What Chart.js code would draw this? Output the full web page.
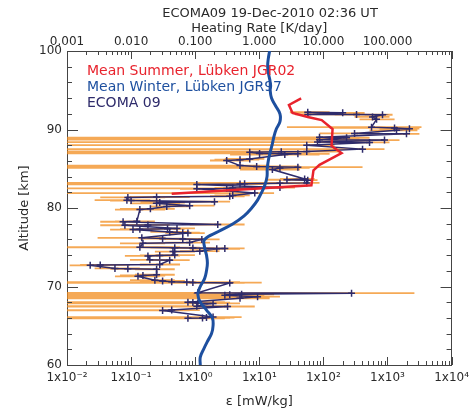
<!DOCTYPE html>
<html>
<head>
<meta charset="utf-8">
<script src="https://cdn.jsdelivr.net/npm/chart.js@4.4.1/dist/chart.umd.min.js"></script>
<style>
  html, body { margin: 0; padding: 0; background: #fff; }
</style>
</head>
<body>
<canvas id="myChart" width="475" height="412"></canvas>
<script>
// ECOMA 09 profile: altitude [km], epsilon [mW/kg], error bar low/high
const ecomaAlt = [92.20, 92.12, 91.92, 91.90, 91.88, 91.60, 91.30,
  90.30, 90.20, 90.10, 89.90, 89.50, 89.45, 89.00, 88.95, 88.70, 88.65, 88.40, 88.35, 88.00,
  87.50, 87.20, 87.15, 87.10, 86.95, 86.90, 86.80, 86.25, 86.15, 86.05,
  85.40, 85.30, 85.20, 85.10, 84.90, 83.70, 83.60, 83.55,
  83.20, 83.15, 83.10, 83.05, 83.00, 82.60, 82.55, 82.50, 82.45,
  81.90, 81.60, 81.50, 81.40, 81.35, 81.00, 80.95, 80.80, 80.70, 80.60, 80.30, 80.20, 79.90, 79.80,
  78.30, 78.25, 77.90, 77.85, 77.80, 77.40, 77.35, 77.30, 77.25, 76.95, 76.85, 76.80,
  76.20, 76.10, 76.05, 76.00, 75.60, 75.50, 75.00, 74.95, 74.90, 74.85, 74.80, 74.50, 74.45,
  74.00, 73.95, 73.90, 73.40, 73.35, 72.80, 72.75, 72.70, 72.30, 72.25, 72.20,
  71.50, 71.40, 71.30, 70.80, 70.70, 70.60, 70.55, 70.50, 70.45,
  69.20, 69.15, 69.00, 68.95, 68.90, 68.70, 68.50, 68.00, 67.95, 67.90, 67.85, 67.50, 67.45,
  67.00, 66.95, 66.10, 66.05, 66.00, 65.95]
const ecomaEps = [57, 200, 57, 329, 836, 584, 675,
  564, 1288, 2200, 1383, 306, 1978, 87, 230, 87, 898, 81, 525, 55,
  408, 55, 22, 7.1, 10.1, 40, 25, 7.1, 5, 3.1,
  5, 9.1, 40, 21, 16, 51, 27, 57,
  55, 21, 5.9, 5, 1.06, 21, 3.85, 3.1, 1.06,
  8.5, 3.85, 3.46, 0.25, 0.089, 0.086, 0.10, 2.0, 0.28, 0.25, 0.82, 0.36, 0.2, 0.137,
  0.123, 0.075, 2.25, 0.183, 0.08, 0.52, 0.37, 0.137, 0.107, 0.40, 0.64, 0.77,
  0.147, 0.31, 0.64, 1.27, 0.82, 0.153, 0.137, 0.48, 0.92, 2.9, 2.17, 1.18, 0.45,
  0.48, 0.28, 0.183, 0.196, 0.40, 0.28, 0.033, 0.023, 0.056, 0.089, 0.25,
  0.25, 0.153, 0.128, 0.235, 0.31, 0.43, 0.74, 0.92, 3.46,
  1.1, 275, 5.3, 3.46, 2.9, 9.4, 5, 0.77, 0.92, 1.1, 1.9, 1.06, 3.2,
  0.43, 0.31, 1.9, 1.5, 1.3, 0.77]
const ecomaLow = [30, 87, 36, 150, 440, 306, 366,
  27, 125, 750, 525, 87, 900, 43, 0.004, 0.004, 306, 0.004, 179, 0.004,
  0.004, 0.004, 0.004, 0.004, 0.004, 5, 3.5, 2.9, 2, 1.7,
  0.004, 0.004, 5, 0.004, 5, 21, 13, 36,
  0.004, 7.1, 3.5, 2.9, 0.004, 8.5, 2, 0.004, 0.58,
  0.004, 2, 1.7, 0.096, 0.033, 0.027, 0.047, 0.82, 0.14, 0.096, 0.4, 0.2, 0.067, 0.056,
  0.056, 0.033, 0.82, 0.08, 0.033, 0.28, 0.2, 0.067, 0.047, 0.2, 0.34, 0.4,
  0.03, 0.137, 0.28, 0.58, 0.34, 0.067, 0.004, 0.2, 0.4, 1.18, 0.82, 0.58, 0.235,
  0.235, 0.137, 0.08, 0.096, 0.2, 0.137, 0.016, 0.011, 0.027, 0.047, 0.115,
  0.115, 0.067, 0.056, 0.096, 0.137, 0.2, 0.004, 0.004, 0.004,
  0.004, 0.004, 0.004, 0.004, 0.004, 0.004, 0.004, 0.004, 0.004, 0.004, 0.004, 0.004, 0.004,
  0.004, 0.004, 0.004, 0.004, 0.004, 0.004]
const ecomaHigh = [125, 440, 214, 630, 1200, 1075, 1290,
  3390, 2630, 3150, 2930, 750, 3150, 214, 525, 366, 1540, 179, 1075, 149,
  898, 179, 61, 43, 30, 125, 87, 12, 10, 7.1,
  14.5, 43, 408, 61, 43, 73, 61, 81,
  87, 43, 14.5, 12, 3.5, 36, 7.1, 5.9, 2,
  17, 7.1, 5.9, 0.82, 0.34, 0.2, 0.28, 3.5, 0.69, 0.58, 2, 0.82, 0.48, 0.34,
  0.235, 0.137, 5.9, 0.4, 0.164, 0.99, 0.69, 0.28, 0.2, 0.82, 1.18, 1.41,
  0.34, 0.69, 1.41, 2.4, 1.7, 0.34, 0.58, 1.18, 2, 5.9, 5, 2.4, 0.99,
  0.99, 0.58, 0.4, 0.4, 0.82, 0.58, 0.096, 0.047, 0.137, 0.2, 0.48,
  0.48, 0.34, 0.28, 0.48, 0.69, 0.99, 5, 10.9, 5.9,
  3.5, 2630, 17, 12, 10.9, 21, 14.5, 2.9, 3.5, 2.9, 5, 3.5, 8.5,
  1.18, 0.82, 5.3, 4.1, 3.5, 2.9]

// Mean Summer, Luebken JGR02
const summerAlt = [93.97, 93.12, 92.1, 91.6, 91.2, 90.06, 87.9, 87.0, 85.5, 84.8, 82.9, 81.8]
const summerEps = [45, 29, 33, 57, 94, 139, 134, 192, 87, 70, 65, 0.43]

// Mean Winter, Luebken JGR97
const winterAlt = [60, 61, 62, 63, 64, 65, 66, 67, 68, 69, 70, 71, 72, 73, 74, 75, 76, 77, 78, 79, 80,
  81, 82, 83, 84, 85, 86, 87, 88, 89, 90, 91, 92, 93, 94, 95, 96, 97, 98, 99, 100]
const winterEps = [1.2, 1.2, 1.35, 1.55, 1.8, 1.9, 1.85, 1.5, 1.2, 1.1, 1.2, 1.4, 1.5, 1.55, 1.5, 1.4, 1.4, 2.3, 3.9, 5.8, 7.6,
  9.4, 10.9, 12.3, 13.2, 13.3, 13.8, 14.7, 15.8, 16.8, 18.3, 21, 21, 18, 15.5, 14.8, 14.8, 14, 13.5, 13.8, 14.5]

// ticks
const epsTicks = [0.01, 0.1, 1, 10, 100, 1000, 10000]
const epsTickLabels = ['1x10⁻²', '1x10⁻¹', '1x10⁰', '1x10¹', '1x10²', '1x10³', '1x10⁴']
const heatTicks = [0.001, 0.01, 0.1, 1, 10, 100]
const heatTickLabels = ['0.001', '0.010', '0.100', '1.000', '10.000', '100.000']
const altTicks = [60, 70, 80, 90, 100]

const mainTitle = 'ECOMA09 19-Dec-2010 02:36 UT'
const legendItems = [
  { text: 'Mean Summer, Lübken JGR02', color: '#e8232d' },
  { text: 'Mean Winter, Lübken JGR97', color: '#1d4f9f' },
  { text: 'ECOMA 09', color: '#2e2b6b' }
]

const FONT = '"DejaVu Sans", sans-serif'
const TXT = '#2a2a2a'

// error bars as one line dataset broken by nulls
let errData = []
ecomaAlt.forEach((a, i) => {
  errData.push({ x: ecomaLow[i], y: a }, { x: ecomaHigh[i], y: a }, { x: null, y: null })
})

// inward tick marks, title and text legend
const extras = {
  id: 'extras',
  afterDraw(chart) {
    const { ctx, chartArea: a, scales } = chart
    ctx.save()
    ctx.strokeStyle = '#444'
    ctx.lineWidth = 1
    ctx.beginPath()
    const xt = (px, len) => {
      px = Math.round(px) + 0.5
      ctx.moveTo(px, a.bottom); ctx.lineTo(px, a.bottom - len)
      ctx.moveTo(px, a.top); ctx.lineTo(px, a.top + len)
    }
    const yt = (py, len) => {
      py = Math.round(py) + 0.5
      ctx.moveTo(a.left, py); ctx.lineTo(a.left + len, py)
      ctx.moveTo(a.right, py); ctx.lineTo(a.right - len, py)
    }
    epsTicks.forEach(v => {
      xt(scales.x.getPixelForValue(v), 8)
      if (v < 10000) {
        for (let m = 2; m < 10; m++) xt(scales.x.getPixelForValue(v * m), 4)
      }
    })
    for (let h = 60; h <= 100; h += 2) {
      yt(scales.y.getPixelForValue(h), altTicks.includes(h) ? 11 : 5)
    }
    ctx.stroke()

    ctx.font = '13px ' + FONT
    ctx.fillStyle = TXT
    ctx.textAlign = 'center'
    ctx.textBaseline = 'middle'
    ctx.fillText(mainTitle, 270, 14)
    ctx.textAlign = 'left'
    ctx.font = '14px ' + FONT
    legendItems.forEach((item, i) => {
      ctx.fillStyle = item.color
      ctx.fillText(item.text, a.left + 20, a.top + 20 + i * 16)
    })
    ctx.restore()
  }
}

new Chart(document.getElementById('myChart'), {
  type: 'line',
  data: {
    datasets: [
      {
        label: 'Mean Winter, Lübken JGR97',
        data: winterAlt.map((a, i) => ({ x: winterEps[i], y: a })),
        borderColor: '#1d4f9f',
        borderWidth: 3,
        pointRadius: 0,
        tension: 0.4,
        order: 1
      },
      {
        label: 'Mean Summer, Lübken JGR02',
        data: summerAlt.map((a, i) => ({ x: summerEps[i], y: a })),
        borderColor: '#e8232d',
        borderWidth: 2.5,
        pointRadius: 0,
        order: 2
      },
      {
        label: 'ECOMA 09',
        data: ecomaAlt.map((a, i) => ({ x: ecomaEps[i], y: a })),
        borderColor: '#2e2b6b',
        borderWidth: 1.5,
        pointStyle: 'cross',
        pointRadius: 3.5,
        pointBorderWidth: 1.5,
        pointBorderColor: '#2e2b6b',
        order: 3
      },
      {
        label: 'error',
        data: errData,
        borderColor: 'rgba(242,140,30,0.75)',
        borderWidth: 1.8,
        pointRadius: 0,
        spanGaps: false,
        order: 4
      }
    ]
  },
  options: {
    responsive: false,
    animation: false,
    events: [],
    layout: { padding: 0 },
    plugins: {
      legend: { display: false },
      tooltip: { enabled: false }
    },
    scales: {
      x: {
        type: 'logarithmic',
        position: 'bottom',
        min: 0.01,
        max: 10000,
        grid: { display: false, drawTicks: false },
        border: { display: true, color: '#444', width: 1 },
        afterBuildTicks: s => { s.ticks = epsTicks.map(v => ({ value: v })) },
        afterFit: s => { s.height = 47 },
        ticks: {
          autoSkip: false,
          maxRotation: 0,
          padding: 6,
          color: TXT,
          font: { family: FONT, size: 12 },
          callback: (v) => epsTickLabels[epsTicks.indexOf(v)]
        },
        title: { display: true, text: 'ε [mW/kg]', color: TXT, font: { family: FONT, size: 13 }, padding: { top: 0, bottom: 3 } }
      },
      x2: {
        type: 'logarithmic',
        position: 'top',
        min: 0.001,
        max: 1000,
        grid: { display: false, drawTicks: false },
        border: { display: true, color: '#444', width: 1 },
        afterBuildTicks: s => { s.ticks = heatTicks.map(v => ({ value: v })) },
        afterFit: s => { s.height = 51 },
        ticks: {
          autoSkip: false,
          maxRotation: 0,
          padding: 2,
          color: TXT,
          font: { family: FONT, size: 12 },
          callback: (v) => heatTickLabels[heatTicks.indexOf(v)]
        },
        title: { display: true, text: 'Heating Rate [K/day]', color: TXT, font: { family: FONT, size: 13 }, padding: { top: 21, bottom: 0 } }
      },
      y: {
        type: 'linear',
        position: 'left',
        min: 60,
        max: 100,
        grid: { display: false, drawTicks: false },
        border: { display: true, color: '#444', width: 1 },
        afterBuildTicks: s => { s.ticks = altTicks.map(v => ({ value: v })) },
        afterFit: s => { s.width = 67 },
        ticks: { padding: 5, color: TXT, font: { family: FONT, size: 12 } },
        title: { display: true, text: 'Altitude [km]', color: TXT, font: { family: FONT, size: 13 }, padding: { top: 17, bottom: 0 } }
      },
      y2: {
        type: 'linear',
        position: 'right',
        min: 60,
        max: 100,
        grid: { display: false, drawTicks: false },
        border: { display: true, color: '#444', width: 1 },
        ticks: { display: false },
        afterFit: s => { s.width = 23 }
      }
    }
  },
  plugins: [extras]
})
</script>
</body>
</html>
